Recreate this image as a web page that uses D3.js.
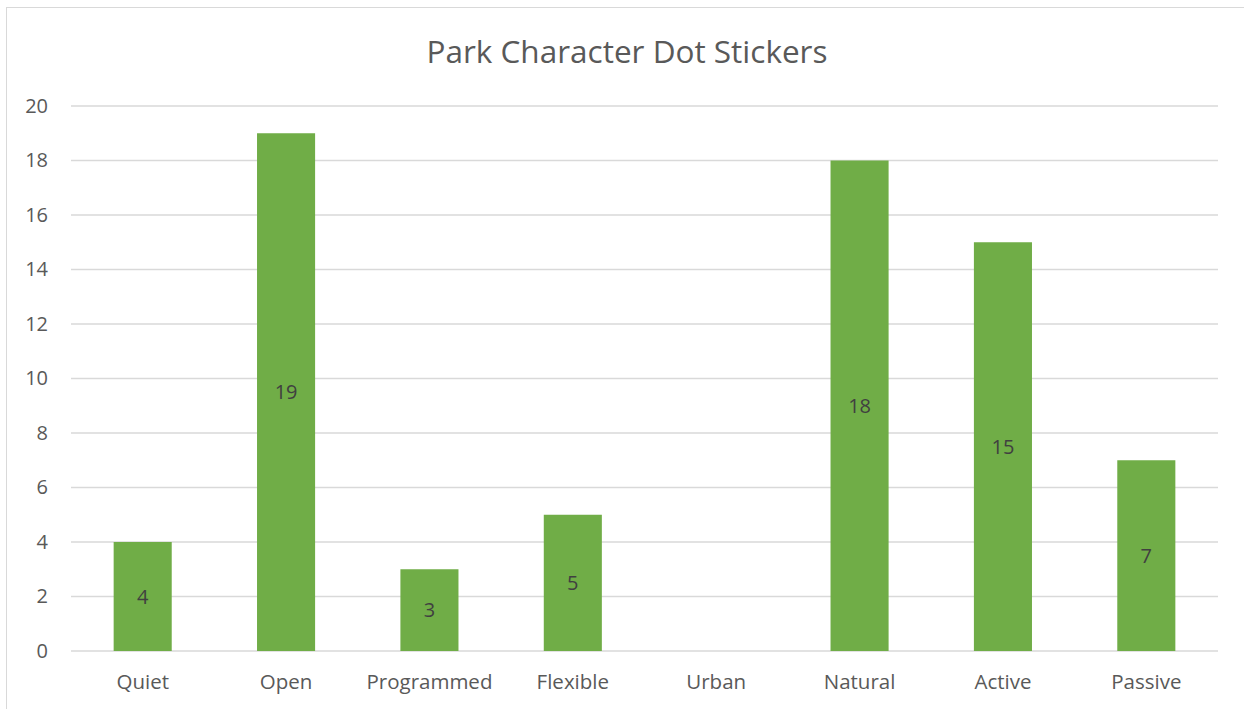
<!DOCTYPE html>
<html>
<head>
<meta charset="utf-8">
<script src="https://cdn.jsdelivr.net/npm/d3@7"></script>
<style>
  body { margin: 0; background: #fff; }
  text { font-family: "Open Sans", "Liberation Sans", sans-serif; }
</style>
</head>
<body>
<div id="chart"></div>
<script>
var categories = ["Quiet", "Open", "Programmed", "Flexible", "Urban", "Natural", "Active", "Passive"];
var values = [4, 19, 3, 5, 0, 18, 15, 7];
var yTicks = [0, 2, 4, 6, 8, 10, 12, 14, 16, 18, 20];

var width = 1244,
    height = 709;

var svg = d3.select("#chart").append("svg")
    .attr("width", width)
    .attr("height", height);

// chart frame
svg.append("rect")
    .attr("x", 6.5).attr("y", 7.5)
    .attr("width", 1260).attr("height", 720)
    .attr("fill", "#fff")
    .attr("stroke", "#d9d9d9");

var x = d3.scaleBand()
    .domain(categories)
    .range([71, 1218])
    .paddingInner(0.595)
    .paddingOuter(0.2975);

var y = d3.scaleLinear()
    .domain([0, 20])
    .range([651, 106]);

svg.append("text")
    .attr("x", 627).attr("y", 63)
    .attr("text-anchor", "middle")
    .attr("fill", "#595959")
    .style("font-size", "31.5px")
    .text("Park Character Dot Stickers");

// gridlines
svg.selectAll(".grid")
    .data(yTicks).enter().append("line")
    .attr("class", "grid")
    .attr("x1", 71).attr("x2", 1218)
    .attr("y1", function (d) { return y(d); })
    .attr("y2", function (d) { return y(d); })
    .attr("stroke", "#d9d9d9")
    .attr("stroke-width", 1.3);

var yAxis = d3.axisLeft(y).tickValues(yTicks).tickSize(0).tickPadding(0);
svg.append("g")
    .attr("transform", "translate(48,0)")
    .call(yAxis)
    .call(function (g) { g.select(".domain").remove(); })
    .selectAll("text")
    .attr("fill", "#595959")
    .style("font-size", "20px")
    .style("font-family", "'Open Sans', sans-serif");

var xAxis = d3.axisBottom(x).tickSize(0).tickPadding(0);
svg.append("g")
    .attr("transform", "translate(0,674)")
    .call(xAxis)
    .call(function (g) { g.select(".domain").remove(); })
    .selectAll("text")
    .attr("fill", "#595959")
    .style("font-size", "20.5px")
    .style("font-family", "'Open Sans', sans-serif");

svg.selectAll(".bar")
    .data(values).enter().append("rect")
    .attr("class", "bar")
    .attr("x", function (d, i) { return x(categories[i]); })
    .attr("width", x.bandwidth())
    .attr("y", function (d) { return y(d); })
    .attr("height", function (d) { return y(0) - y(d); })
    .attr("fill", "#70ad47");

svg.selectAll(".label")
    .data(values.filter(function (d) { return d > 0; })).enter().append("text")
    .attr("class", "label")
    .attr("x", function (d) { return x(categories[values.indexOf(d)]) + x.bandwidth() / 2; })
    .attr("y", function (d) { return (y(d) + y(0)) / 2 + 7; })
    .attr("text-anchor", "middle")
    .attr("fill", "#404040")
    .style("font-size", "20px")
    .text(function (d) { return d; });
</script>
</body>
</html>
